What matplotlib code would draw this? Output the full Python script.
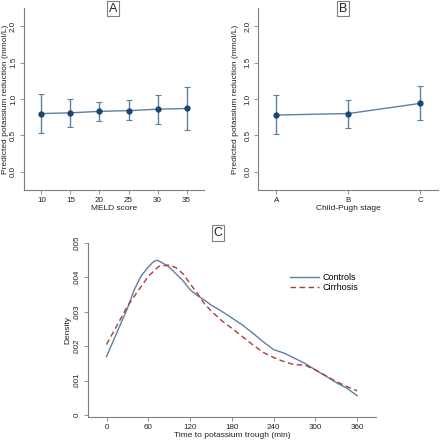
import matplotlib
matplotlib.use("Agg")
import matplotlib.pyplot as plt
import numpy as np

plt.rcParams['font.family'] = ['Liberation Sans', 'DejaVu Sans']

# Panel A data
meld = [10, 15, 20, 25, 30, 35]
meld_est = [0.80, 0.81, 0.83, 0.84, 0.86, 0.87]
meld_lo = [0.53, 0.62, 0.70, 0.71, 0.66, 0.58]
meld_hi = [1.07, 1.00, 0.96, 0.98, 1.06, 1.16]

# Panel B data
cp_labels = ['A', 'B', 'C']
cp_est = [0.78, 0.80, 0.94]
cp_lo = [0.52, 0.60, 0.71]
cp_hi = [1.05, 0.99, 1.18]

# Panel C data
t = [0, 15, 30, 40, 50, 60, 67, 72, 78, 90, 100, 110, 120, 130, 140, 150, 165, 180, 195, 210,
     225, 240, 255, 270, 285, 300, 315, 330, 345, 360]
controls = [0.0017, 0.0024, 0.0031, 0.00365, 0.00405, 0.0043, 0.00445, 0.0045, 0.00445, 0.0043,
            0.0041, 0.0039, 0.00364, 0.00348, 0.00335, 0.0032, 0.00302, 0.00282, 0.00262, 0.00238,
            0.00213, 0.0019, 0.0018, 0.00165, 0.0015, 0.00131, 0.00113, 0.00094, 0.00078, 0.00056]
t2 = [0, 15, 30, 45, 60, 75, 90, 100, 110, 120, 130, 140, 150, 165, 180, 195, 210, 225, 240,
      255, 270, 285, 300, 315, 330, 345, 360]
cirrhosis = [0.00205, 0.0026, 0.00316, 0.0036, 0.00403, 0.00432, 0.00436, 0.00428, 0.0041, 0.00382,
             0.00355, 0.00325, 0.00303, 0.00275, 0.00252, 0.00228, 0.00204, 0.00182, 0.00167,
             0.00155, 0.00146, 0.00145, 0.00131, 0.00114, 0.00097, 0.00083, 0.0007]

navy = '#1a476f'
steel = '#5b80a6'
red = '#b03a3a'
gray = '#7f7f7f'
txt = '#222222'
FS = 6

fig = plt.figure(figsize=(4.4, 4.4), dpi=100)

def style(ax):
    for s in ['top', 'right']:
        ax.spines[s].set_visible(False)
    for s in ['left', 'bottom']:
        ax.spines[s].set_color(gray)
        ax.spines[s].set_linewidth(0.8)
    ax.tick_params(colors=gray, labelcolor=txt, labelsize=5.8, length=3, width=0.6, pad=2)
    for lab in ax.get_yticklabels():
        lab.set_rotation(90)
        lab.set_va('center')

def panel_err(ax, x, est, lo, hi):
    est = np.array(est); lo = np.array(lo); hi = np.array(hi)
    ax.plot(x, est, color=steel, lw=1.0, zorder=2)
    ax.errorbar(x, est, yerr=[est - lo, hi - est], fmt='none', ecolor=steel,
                elinewidth=1.0, capsize=2, capthick=0.8, zorder=2)
    ax.plot(x, est, 'o', color=navy, ms=3.5, zorder=3)
    ax.set_ylim(-0.25, 2.25)
    ax.set_yticks([0.0, 0.5, 1.0, 1.5, 2.0])
    ax.set_yticklabels(['0.0', '0.5', '1.0', '1.5', '2.0'])
    ax.set_ylabel('Predicted potassium reduction (mmol/L)', fontsize=FS, color=txt)

axA = fig.add_axes([24/440, 1-190/440, 180/440, 182/440])
panel_err(axA, meld, meld_est, meld_lo, meld_hi)
axA.set_xlim(7, 38)
axA.set_xticks(meld)
axA.set_xlabel('MELD score', fontsize=FS, color=txt)
style(axA)
axA.yaxis.set_label_coords(-0.082, 0.5)
axA.xaxis.set_label_coords(0.5, -0.085)

axB = fig.add_axes([258.3/440, 1-190/440, 180/440, 182/440])
xb = np.arange(len(cp_labels))
panel_err(axB, xb, cp_est, cp_lo, cp_hi)
axB.set_xlim(-0.25, 2.25)
axB.set_xticks(xb)
axB.set_xticklabels(cp_labels)
axB.set_xlabel('Child-Pugh stage', fontsize=FS, color=txt)
style(axB)
axB.yaxis.set_label_coords(-0.107, 0.5)
axB.xaxis.set_label_coords(0.5, -0.085)

axC = fig.add_axes([87.7/440, 1-416.7/440, 288.3/440, 173.7/440])
axC.plot(t, controls, color=steel, lw=1.0, label='Controls')
axC.plot(t2, cirrhosis, color=red, lw=1.0, ls=(0, (4, 2.5)), label='Cirrhosis')
axC.set_xlim(-27, 387)
axC.set_ylim(-0.00005, 0.005)
axC.set_xticks([0, 60, 120, 180, 240, 300, 360])
axC.set_yticks([0, 0.001, 0.002, 0.003, 0.004, 0.005])
axC.set_yticklabels(['0', '.001', '.002', '.003', '.004', '.005'])
axC.set_xlabel('Time to potassium trough (min)', fontsize=FS, color=txt)
axC.set_ylabel('Density', fontsize=FS, color=txt)
style(axC)
axC.yaxis.set_label_coords(-0.058, 0.5)
axC.xaxis.set_label_coords(0.5, -0.088)
axC.legend(loc='upper left', bbox_to_anchor=(0.70, 0.825), frameon=False, fontsize=6.5,
           handlelength=3.3, handletextpad=0.4, labelspacing=0.1, borderaxespad=0,
           borderpad=0)

box = dict(boxstyle='square,pad=0.15', fc='white', ec=gray, lw=0.8)
fig.text(113/440, 1-8.5/440, 'A', ha='center', va='center', fontsize=9, color=txt, bbox=box)
fig.text(343/440, 1-8.5/440, 'B', ha='center', va='center', fontsize=9, color=txt, bbox=box)
fig.text(218/440, 1-233/440, 'C', ha='center', va='center', fontsize=9, color=txt, bbox=box)

fig.savefig('out.png', dpi=100, facecolor='white')
